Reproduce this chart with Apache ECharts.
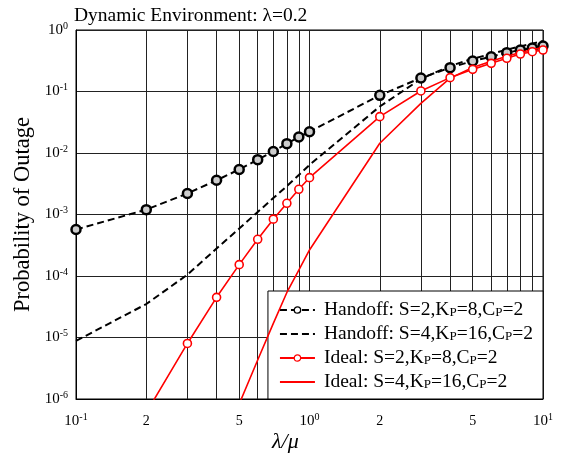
<!DOCTYPE html>
<html>
<head>
<meta charset="utf-8">
<script src="https://cdn.jsdelivr.net/npm/echarts@6/dist/echarts.min.js"></script>
<style>
  html, body { margin: 0; padding: 0; background: #fff; }
  #chart { width: 565px; height: 461px; }
</style>
</head>
<body>
<div id="chart"></div>
<script>
// Load ratio lambda/mu sampled for every curve
const lambdaMu = [0.1, 0.2, 0.3, 0.4, 0.5, 0.6, 0.7, 0.8, 0.9, 1, 2, 3, 4, 5, 6, 7, 8, 9, 10];

// Outage probability per scheme (null = not simulated / off-scale)
const handoffS2 = [5.7e-4, 1.2e-3, 2.2e-3, 3.6e-3, 5.4e-3, 7.8e-3, 1.06e-2, 1.42e-2, 1.82e-2, 2.22e-2,
                   0.0867, 0.166, 0.244, 0.313, 0.368, 0.428, 0.473, 0.51, 0.55];
const handoffS4 = [8.8e-6, 3.5e-5, 1.05e-4, 2.8e-4, 5.9e-4, 1.1e-3, 1.85e-3, 2.9e-3, 4.4e-3, 6.4e-3,
                   0.057, 0.16, 0.26, 0.34, 0.41, 0.48, 0.54, 0.60, 0.66];
const idealS2 = [null, 6e-7, 8.0e-6, 4.5e-5, 1.53e-4, 3.95e-4, 8.4e-4, 1.52e-3, 2.57e-3, 3.97e-3,
                 0.039, 0.102, 0.168, 0.229, 0.287, 0.347, 0.407, 0.444, 0.473];
const idealS4 = [null, null, null, null, 8.3e-7, 4.3e-6, 1.7e-5, 5.4e-5, 1.25e-4, 2.65e-4,
                 0.0144, 0.064, 0.165, 0.245, 0.31, 0.375, 0.43, 0.48, 0.52];

// Axis tick positions
const xGridValues = [0.1, 0.2, 0.3, 0.4, 0.5, 0.6, 0.7, 0.8, 0.9, 1, 2, 3, 4, 5, 6, 7, 8, 9, 10];
const xLabelValues = [0.1, 0.2, 0.5, 1, 2, 5, 10];
const yLabelValues = [1e-6, 1e-5, 1e-4, 1e-3, 1e-2, 1e-1, 1];

const seriesNames = [
  'Handoff: S=2,KP=8,CP=2',
  'Handoff: S=4,KP=16,CP=2',
  'Ideal: S=2,KP=8,CP=2',
  'Ideal: S=4,KP=16,CP=2'
];
const legendRich = {
  'Handoff: S=2,KP=8,CP=2': '{n|Handoff: S=2,K}{s|P}{n|=8,C}{s|P}{n|=2}',
  'Handoff: S=4,KP=16,CP=2': '{n|Handoff: S=4,K}{s|P}{n|=16,C}{s|P}{n|=2}',
  'Ideal: S=2,KP=8,CP=2': '{n|Ideal: S=2,K}{s|P}{n|=8,C}{s|P}{n|=2}',
  'Ideal: S=4,KP=16,CP=2': '{n|Ideal: S=4,K}{s|P}{n|=16,C}{s|P}{n|=2}'
};

const serif = '"Liberation Serif", "Times New Roman", serif';

function pairs(values) {
  return lambdaMu.map((x, i) => [x, values[i]]);
}

function decadeLabel(v) {
  const e = Math.round(Math.log10(v));
  if (Math.abs(v - Math.pow(10, e)) < 1e-9 * Math.pow(10, e)) {
    return '{b|10}{sup|' + e + '}';
  }
  return '{d|' + String(Math.round(v / Math.pow(10, Math.floor(Math.log10(v) + 1e-9)))) + '}';
}

const labelRich = {
  b: { fontFamily: serif, fontSize: 15, color: '#000', lineHeight: 18, verticalAlign: 'middle' },
  d: { fontFamily: serif, fontSize: 14, color: '#000', lineHeight: 18, verticalAlign: 'middle' },
  sup: { fontFamily: serif, fontSize: 10, color: '#000', lineHeight: 10, verticalAlign: 'top' }
};

const chart = echarts.init(document.getElementById('chart'), null, { renderer: 'canvas' });

chart.setOption({
  animation: false,
  backgroundColor: '#fff',
  grid: {
    left: 76, right: 22, top: 30, bottom: 62,
    show: true, borderColor: '#000', borderWidth: 1, backgroundColor: 'transparent'
  },
  title: {
    text: 'Dynamic Environment: \u03bb=0.2',
    left: 69, top: 1,
    textStyle: { fontFamily: serif, fontSize: 19.5, fontWeight: 'normal', color: '#000' }
  },
  graphic: [
    {
      type: 'text',
      left: 272, top: 431,
      style: { text: '\u03bb/\u03bc', fontFamily: serif, fontSize: 22, fontStyle: 'italic', fill: '#000' }
    },
    {
      type: 'text',
      rotation: Math.PI / 2,
      x: 12, y: 312,
      style: { text: 'Probability of Outage', fontFamily: serif, fontSize: 22.5, fill: '#000' }
    }
  ],
  xAxis: {
    type: 'log',
    min: 0.1, max: 10,
    logBase: 10,
    axisLine: { show: true, lineStyle: { color: '#000', width: 1 } },
    axisTick: { show: false, customValues: xGridValues },
    splitLine: { show: true, lineStyle: { color: '#222', width: 1 } },
    axisLabel: {
      customValues: xLabelValues,
      margin: 13,
      formatter: decadeLabel,
      rich: labelRich,
      color: '#000'
    }
  },
  yAxis: {
    type: 'log',
    min: 1e-6, max: 1,
    logBase: 10,
    interval: 1,
    axisLine: { show: true, lineStyle: { color: '#000', width: 1 } },
    axisTick: { show: false, customValues: yLabelValues },
    splitLine: { show: true, lineStyle: { color: '#222', width: 1 } },
    axisLabel: {
      customValues: yLabelValues,
      margin: 8,
      formatter: decadeLabel,
      rich: labelRich,
      color: '#000'
    }
  },
  legend: {
    orient: 'vertical',
    right: 22, bottom: 62,
    padding: [9, 10, 7, 11],
    itemGap: 4,
    itemWidth: 35, itemHeight: 8,
    backgroundColor: '#fff',
    borderColor: '#000', borderWidth: 1, borderRadius: 0,
    data: [
      { name: seriesNames[0], itemStyle: { borderWidth: 1.3, color: '#fff' } },
      { name: seriesNames[1], itemStyle: { opacity: 0 } },
      { name: seriesNames[2], itemStyle: { borderWidth: 1.2 } },
      { name: seriesNames[3], itemStyle: { opacity: 0 } }
    ],
    formatter: name => legendRich[name],
    textStyle: {
      fontFamily: serif, fontSize: 19.5, color: '#000',
      padding: [0, 0, 0, 4],
      rich: {
        n: { fontFamily: serif, fontSize: 19.5, color: '#000', lineHeight: 19, verticalAlign: 'middle' },
        s: { fontFamily: serif, fontSize: 13, color: '#000', lineHeight: 13, verticalAlign: 'bottom' }
      }
    }
  },
  series: [
    {
      name: seriesNames[0], type: 'line', data: pairs(handoffS2),
      symbol: 'circle', symbolSize: 9,
      itemStyle: { color: '#ccc', borderColor: '#000', borderWidth: 2.5 },
      lineStyle: { color: '#000', width: 2, type: [7, 4] },
      z: 4
    },
    {
      name: seriesNames[1], type: 'line', data: pairs(handoffS4),
      symbol: 'none', showSymbol: false,
      itemStyle: { color: '#000' },
      lineStyle: { color: '#000', width: 2, type: [7, 4] },
      z: 3
    },
    {
      name: seriesNames[2], type: 'line', data: pairs(idealS2),
      symbol: 'circle', symbolSize: 8,
      itemStyle: { color: '#fff', borderColor: '#ff0000', borderWidth: 1.6 },
      lineStyle: { color: '#ff0000', width: 1.6 },
      z: 5
    },
    {
      name: seriesNames[3], type: 'line', data: pairs(idealS4),
      symbol: 'none', showSymbol: false,
      itemStyle: { color: '#ff0000' },
      lineStyle: { color: '#ff0000', width: 1.6 },
      z: 5
    }
  ]
});
</script>
</body>
</html>
